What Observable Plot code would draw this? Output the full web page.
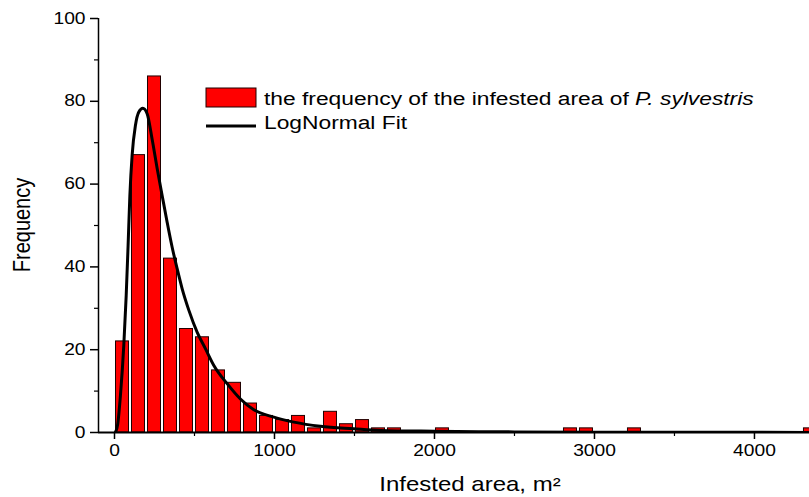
<!DOCTYPE html>
<html><head><meta charset="utf-8">
<script src="https://cdn.jsdelivr.net/npm/d3@7"></script>
<script src="https://cdn.jsdelivr.net/npm/@observablehq/plot@0.6"></script>
<style>
body{margin:0;background:#fff}
#chart svg{display:block;background:#fff}
</style>
</head><body><div id="chart"></div>
<script>
// ---- data ----
const binStart = [0,100,200,300,400,500,600,700,800,900,1000,1100,1200,1300,1400,1500,1600,1700,2000,2800,2900,3200,4300];
const binCount = [22,67,86,42,25,23,15,12,7,4,3,4,1,5,2,3,1,1,1,1,1,1,1];
const binWidth = 100;
const fitX = [5,20,37,58,73,85,96,110,131,152,177,204,235,267,298,329,360,392,423,465,517,569,621,704,787,871,996,1121,1287,1496,1662,2000,2500,3000,3500,4344];
const fitY = [0,2,8.9,21,33,45.2,57.2,66.9,74.2,77.4,78.3,77,70.9,63.7,57.2,50.8,44.8,39.5,34.7,29.5,24.2,20.2,16.2,11.8,8.1,5.5,3.7,2.5,1.5,0.9,0.5,0.3,0.15,0.08,0.05,0.03];
const xTicks = [0,1000,2000,3000,4000];
const xMinorTicks = [500,1500,2500,3500];
const yTicks = [0,20,40,60,80,100];
const yMinorTicks = [10,30,50,70,90];
const xDomain = [-100,4344];
const yDomain = [0,100];
const legendLabels = ["the frequency of the infested area of ", "P. sylvestris", "LogNormal Fit"];
const xTitle = "Infested area, m\u00b2";
const yTitle = "Frequency";

const bins = binStart.map((s,i)=>({x1:s, x2:s+binWidth, count:binCount[i]}));
const fit = fitX.map((x,i)=>({x, y:fitY[i]}));

const FONT = "'Liberation Sans', Arial, sans-serif";
const TICK_FS = 16, TITLE_FS = 20, LEG_FS = 19;
const SX = 1.2; // horizontal text stretch seen in the reference

const chart = Plot.plot({
  width: 809, height: 497,
  marginLeft: 98, marginRight: 0, marginTop: 18, marginBottom: 65,
  style: {fontFamily: FONT, fontSize: TICK_FS+"px", color:"#000", background:"#fff"},
  x: {domain: xDomain},
  y: {domain: yDomain},
  marks: [
    Plot.rectY(bins, {x1:"x1", x2:"x2", y:"count", fill:"#ff0000", stroke:"#200000", strokeWidth:1, insetLeft:1.5, insetRight:1.5, clip:true}),
    Plot.line(fit, {x:"x", y:"y", stroke:"#000", strokeWidth:3, curve:"monotone-x", clip:true}),
    Plot.ruleY([yDomain[0]], {stroke:"#000", strokeWidth:1.8}),
    Plot.ruleX([xDomain[0]], {stroke:"#000", strokeWidth:1.5}),
    Plot.axisX(xTicks, {tickSize:7, tickPadding:5, tickFormat:d=>String(d), strokeWidth:1.5, label:null, fontSize:TICK_FS}),
    Plot.axisX(xMinorTicks, {tickSize:4, tickFormat:()=>"", strokeWidth:1.2, label:null}),
    Plot.axisY(yTicks, {tickSize:8, tickPadding:5, tickFormat:d=>String(d), strokeWidth:1.5, label:null, fontSize:TICK_FS}),
    Plot.axisY(yMinorTicks, {tickSize:4, tickFormat:()=>"", strokeWidth:1.2, label:null})
  ]
});
document.getElementById("chart").appendChild(chart);

const svg = d3.select(chart);
// stretch the tick labels horizontally like the reference
svg.selectAll("text").each(function(){
  const t = this.textContent;
  if (!t) return;
  const w = this.getComputedTextLength();
  if (w > 0) {
    this.setAttribute("textLength", (w*SX).toFixed(2));
    this.setAttribute("lengthAdjust", "spacingAndGlyphs");
  }
});

// axis titles
svg.append("text")
  .attr("transform",`translate(22,225) rotate(-90) scale(1,${SX})`)
  .attr("text-anchor","middle").attr("dy","0.35em")
  .style("font-family",FONT).style("font-size",TITLE_FS+"px").attr("fill","#000")
  .text(yTitle);
svg.append("text")
  .attr("transform",`translate(470,491) scale(${SX},1)`)
  .attr("text-anchor","middle")
  .style("font-family",FONT).style("font-size",TITLE_FS+"px").attr("fill","#000")
  .text(xTitle);

// legend
const leg = svg.append("g").style("font-family",FONT).style("font-size",LEG_FS+"px");
leg.append("rect").attr("x",206).attr("y",88).attr("width",50).attr("height",19)
  .attr("fill","#ff0000").attr("stroke","#200000").attr("stroke-width",1);
const t1 = leg.append("text").attr("transform",`translate(264,98) scale(${SX},1)`)
  .attr("text-anchor","start").attr("dy","0.35em").attr("fill","#000");
t1.append("tspan").text(legendLabels[0]);
t1.append("tspan").style("font-style","italic").text(legendLabels[1]);
leg.append("line").attr("x1",206).attr("x2",256).attr("y1",126).attr("y2",126)
  .attr("stroke","#000").attr("stroke-width",3);
leg.append("text").attr("transform",`translate(264,122) scale(${SX},1)`)
  .attr("text-anchor","start").attr("dy","0.35em").attr("fill","#000").text(legendLabels[2]);
</script>
</body></html>
